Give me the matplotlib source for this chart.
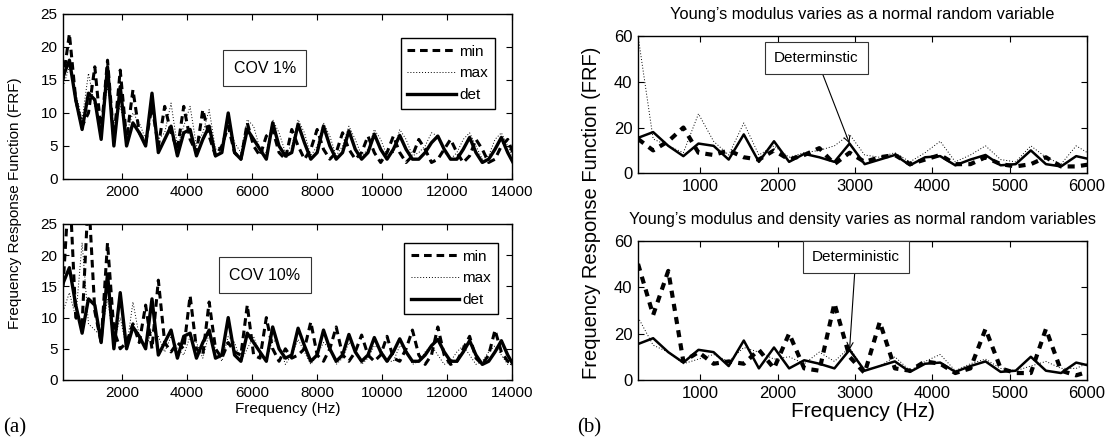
import numpy as np
import matplotlib
matplotlib.use("Agg")
import matplotlib.pyplot as plt

plt.rcParams["font.family"] = ["Liberation Sans", "DejaVu Sans"]

# frequency grid (Hz), 72 samples
freq = 195.3125 * np.arange(1, 73)

# deterministic FRF (same in all panels)
det = [15.5, 18, 12, 7.5, 13, 12, 6, 17, 5, 14, 5, 8.5, 7, 5, 13, 4, 6, 8, 3.5, 7,
       7.5, 3.5, 6, 8, 3.5, 4, 10, 4, 3, 7.5, 6, 4.5, 3, 8.5, 5, 3.5, 4, 8.3, 5.5, 3,
       4, 8, 5, 3, 4, 7.3, 4.5, 3, 4, 6.8, 4.5, 3, 4.5, 6.6, 4.5, 3, 3, 4, 5.5, 6.5,
       4.5, 3, 3, 4.5, 6.3, 4, 2.5, 3, 4.5, 6.3, 4, 2.2]

# COV 1 %
min_1 = [15, 22, 12, 8, 10, 17, 7, 18, 6, 16.5, 6, 13.5, 7, 5.5, 11, 5, 11, 7, 4.5, 11,
         6, 4, 10.5, 6.5, 3.5, 5, 8, 4, 3, 8.5, 5, 3.5, 6.5, 7.5, 4, 3, 7.5, 5, 3, 4.5,
         7.5, 4.5, 3, 4, 7, 4.5, 3, 4, 6.5, 4, 2.5, 4, 6.5, 4, 2.5, 3.5, 6, 4.5, 2.5, 3,
         4.5, 6, 4, 2.5, 3.5, 6, 4.5, 2.5, 3, 5, 6, 3.5]
max_1 = [14, 17, 13, 9, 16, 11, 8, 14, 8, 11, 7, 10, 8.5, 6, 11, 6, 7, 11.5, 5, 8,
         11, 5, 7, 10.5, 4.5, 5, 9, 5.5, 4, 9, 8, 4.5, 4, 9, 7, 4, 5, 9, 7, 3.5,
         5, 8.5, 6.5, 3.5, 5, 8, 6, 3.5, 4.5, 7.5, 6, 3.5, 4, 7.5, 6, 3.5, 4, 5, 7, 6.5,
         4, 3, 4, 6, 7, 5, 3, 3.5, 6, 7, 5, 3]

# COV 10 %
min_10 = [15, 32, 10, 9, 30, 11, 6, 22, 8, 5, 6, 9, 6, 12, 5, 16, 6, 4.5, 6, 5,
          13.5, 5, 4, 12.5, 5, 3.5, 6, 4.5, 4, 12, 4, 3.5, 10, 5, 3, 5, 3.5, 4, 5, 9.3,
          4, 3, 5, 8.5, 4, 3, 4.5, 7.2, 4, 3, 4, 7, 3.5, 3, 5, 8, 4, 2.5, 4, 8.5,
          4, 2.5, 3, 5, 7, 3.5, 2.5, 4, 8, 4.5, 3, 2.5]
max_10 = [11, 14, 10, 22, 9, 8, 7, 13, 6, 10, 5, 12.5, 7, 5, 8, 7, 4.5, 7, 5, 4,
          7, 6, 3.5, 7.5, 5, 3, 7, 6, 3, 5, 7, 4, 3, 6.5, 5.5, 2.5, 4, 6.5, 4.5, 2.5,
          4, 6, 5, 2.5, 3.5, 6, 5, 2.5, 3.5, 5.5, 5, 3, 3, 5.5, 5, 2.5, 3, 4.5, 5.5, 4,
          2.5, 3, 4.5, 5.5, 4, 2.5, 3, 4.5, 5.5, 4, 2.5, 2.5]

# (b) Young's modulus only, first 31 samples
min_E = [15, 10, 14, 20, 9, 8, 10, 7, 6, 10, 6, 8, 11, 4, 9, 5, 7, 8, 4, 6,
         8, 4, 4, 7, 4, 3, 4, 7, 3, 3, 4]
max_E = [60, 15, 12, 9, 26, 14, 8, 22, 8, 12, 7, 9, 10, 12, 17, 8, 7, 9, 5, 9,
         14, 5, 8, 12, 6, 5, 12, 7, 4, 12, 8]

# (b) Young's modulus and density
min_Ed = [50, 28, 47, 8, 12, 7, 8, 7, 13, 5, 20, 5, 4, 33, 10, 3, 25, 5, 4, 8,
          7, 3, 5, 22, 5, 3, 3, 22, 4, 2, 4]
max_Ed = [27, 15, 12, 7, 9, 11, 8, 14, 12, 9, 10, 7, 12, 8, 14, 4, 6, 10, 4, 8,
          11, 4, 7, 9, 5, 4, 6, 8, 5, 5, 8]

n_b = 31

fig = plt.figure(figsize=(11.18, 4.47), dpi=100)

def style_axes(ax, size):
    ax.tick_params(direction="in", top=True, right=True, labelsize=size,
                   length=4, width=0.8, pad=4)
    for s in ax.spines.values():
        s.set_linewidth(1.0)

# ---- (a) panels
left_axes = [fig.add_axes([0.0564, 0.5996, 0.4016, 0.3691]),
             fig.add_axes([0.0564, 0.1499, 0.4016, 0.3490])]
left_data = [(min_1, max_1, "COV 1%", (0.962, 0.855)),
             (min_10, max_10, "COV 10%", (0.969, 0.88))]

for ax, (mn, mx, label, anchor) in zip(left_axes, left_data):
    ax.plot(freq, mn, color="k", lw=2.2, dashes=(2.5, 1.6), label="min")
    ax.plot(freq, mx, color="k", lw=0.7, dashes=(1, 2), label="max")
    ax.plot(freq, det, color="k", lw=2.4, label="det")
    ax.set_xlim(freq[0], 14000)
    ax.set_ylim(0, 25)
    ax.set_xticks(np.arange(2000, 14001, 2000))
    ax.set_yticks(np.arange(0, 26, 5))
    style_axes(ax, 11)
    ax.text(6400, 16.8, label, ha="center", va="center", fontsize=11.5,
            bbox=dict(boxstyle="square,pad=0.65", fc="white", ec="#333333", lw=0.8))
    ax.legend(loc="upper right", bbox_to_anchor=anchor, fontsize=11,
              handlelength=3.2, handletextpad=0.2, borderpad=0.45,
              labelspacing=0.5, fancybox=False, edgecolor="k",
              framealpha=1, borderaxespad=0)

left_axes[1].set_xlabel("Frequency (Hz)", fontsize=11, labelpad=2)
fig.text(0.0134, 0.545, "Frequency Response Function (FRF)", rotation=90,
         ha="center", va="center", fontsize=11)

# ---- (b) panels
right_axes = [fig.add_axes([0.5707, 0.6123, 0.4016, 0.3072]),
              fig.add_axes([0.5707, 0.1499, 0.4016, 0.3116])]
right_data = [(min_E, max_E, "Young\u2019s modulus varies as a normal random variable",
               "Determinstic", (2500, 50.5)),
              (min_Ed, max_Ed, "Young\u2019s modulus and density varies as normal random variables",
               "Deterministic", (3010, 53))]

for ax, (mn, mx, title, note, pos) in zip(right_axes, right_data):
    ax.plot(freq[:n_b], mn, color="k", lw=3.0, dashes=(1.7, 1.5))
    ax.plot(freq[:n_b], mx, color="k", lw=0.7, dashes=(1, 2))
    ax.plot(freq[:n_b], det[:n_b], color="k", lw=1.8)
    ax.set_xlim(freq[0], 6000)
    ax.set_ylim(0, 60)
    ax.set_xticks(np.arange(1000, 6001, 1000))
    ax.set_yticks([0, 20, 40, 60])
    style_axes(ax, 12)
    ax.set_title(title, fontsize=11.8, pad=12)
    ax.annotate(note, xy=(freq[14], det[14]), xytext=pos, ha="center", va="center",
                fontsize=11,
                bbox=dict(boxstyle="square,pad=0.6", fc="white", ec="#333333", lw=0.8),
                arrowprops=dict(arrowstyle="->", color="k", lw=0.8,
                                shrinkA=0, shrinkB=0))

right_axes[1].set_xlabel("Frequency (Hz)", fontsize=15, labelpad=1)
fig.text(0.529, 0.525, "Frequency Response Function (FRF)", rotation=90,
         ha="center", va="center", fontsize=14.5)

fig.text(0.003, 0.042, "(a)", fontsize=15, family=["Liberation Serif"], ha="left", va="center")
fig.text(0.516, 0.042, "(b)", fontsize=15, family=["Liberation Serif"], ha="left", va="center")

fig.savefig("out.png", dpi=100)
